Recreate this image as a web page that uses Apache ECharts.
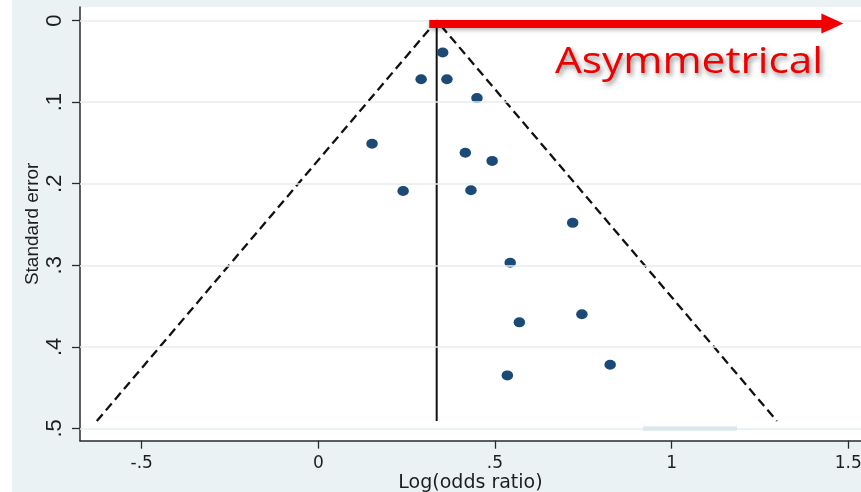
<!DOCTYPE html>
<html>
<head>
<meta charset="utf-8">
<script src="https://cdn.jsdelivr.net/npm/echarts@6/dist/echarts.min.js"></script>
<style>
  html, body { margin: 0; padding: 0; background: #ffffff; }
  #chart { width: 861px; height: 492px; background: linear-gradient(to right, #ffffff 12px, #eaf2f3 12px); }
</style>
</head>
<body>
<div id="chart"></div>
<script>
// Study estimates: log odds ratio and its standard error
const logOddsRatio  = [0.352, 0.291, 0.364, 0.449, 0.152, 0.416, 0.492, 0.240, 0.432, 0.720, 0.543, 0.746, 0.569, 0.826, 0.535];
const standardError = [0.039, 0.072, 0.072, 0.095, 0.151, 0.162, 0.172, 0.209, 0.208, 0.248, 0.297, 0.360, 0.370, 0.422, 0.435];

// Pooled estimate and pseudo 95% confidence limits
const pooledX  = [0.335, 0.335];
const pooledSE = [0, 0.491];
const limitX   = [-0.627, 0.335, 1.298];
const limitSE  = [0.491, 0, 0.491];

// Axis ticks and their labels
const xTicks = [-0.5, 0, 0.5, 1, 1.5];
const xTickLabels = ['-.5', '0', '.5', '1', '1.5'];
const yTicks = [0, 0.1, 0.2, 0.3, 0.4, 0.5];
const yTickLabels = ['0', '.1', '.2', '.3', '.4', '.5'];

// Annotation arrow across the top
const arrowX = [0.314, 1.455];
const arrowSE = 0.0036;
const annotationText = 'Asymmetrical';

const axisColor = '#2a2a2a';
const textColor = '#1e1e1e';

function tickLabel(ticks, labels) {
  return function (v) {
    for (let i = 0; i < ticks.length; i++) {
      if (Math.abs(ticks[i] - v) < 1e-6) return labels[i];
    }
    return '';
  };
}

// Stretch the annotation to its intended width
const annFont = '36px "Open Sans"';
const mctx = document.createElement('canvas').getContext('2d');
mctx.font = annFont;
const annScale = 268 / mctx.measureText(annotationText).width;

const chart = echarts.init(document.getElementById('chart'), null, { renderer: 'canvas' });

chart.setOption({
  animation: false,
  backgroundColor: 'transparent',
  grid: {
    left: 80, top: 7, right: 0, bottom: 51.3,
    outerBoundsMode: 'none',
    containLabel: false,
    show: true, backgroundColor: '#ffffff', borderWidth: 0
  },
  xAxis: {
    type: 'value',
    min: -0.6746, max: 1.536,
    name: 'Log(odds ratio)',
    nameLocation: 'middle',
    nameGap: 33,
    nameMoveOverlap: false,
    nameTextStyle: { fontFamily: 'DejaVu Sans', fontSize: 19, color: textColor },
    axisLine: { show: true, onZero: false, lineStyle: { color: axisColor, width: 1.5 } },
    axisTick: { show: true, customValues: xTicks, length: 8, lineStyle: { color: axisColor, width: 1.3 } },
    axisLabel: {
      customValues: xTicks, formatter: tickLabel(xTicks, xTickLabels),
      margin: 14, fontFamily: 'DejaVu Sans', fontSize: 17, color: textColor
    },
    splitLine: { show: false }
  },
  yAxis: {
    type: 'value',
    inverse: true,
    min: -0.0167, max: 0.5151,
    name: 'Standard error',
    nameLocation: 'middle',
    nameRotate: 90,
    nameGap: 38,
    nameMoveOverlap: false,
    nameTextStyle: { fontFamily: 'Liberation Sans', fontSize: 19, color: textColor },
    axisLine: { show: true, onZero: false, lineStyle: { color: axisColor, width: 1.5 } },
    axisTick: { show: true, customValues: yTicks, length: 8, lineStyle: { color: axisColor, width: 1.3 } },
    axisLabel: {
      customValues: yTicks, formatter: tickLabel(yTicks, yTickLabels),
      rotate: 90, margin: 14, fontFamily: 'Liberation Sans', fontSize: 22, color: textColor
    },
    splitLine: { show: false }
  },
  graphic: [{
    type: 'text',
    x: 555, y: 63,
    scaleX: annScale,
    z: 100,
    style: {
      text: annotationText,
      font: annFont,
      fill: '#ee0000',
      align: 'left',
      verticalAlign: 'middle',
      textShadowColor: 'rgba(40,40,40,0.55)',
      textShadowBlur: 5,
      textShadowOffsetX: 2,
      textShadowOffsetY: 3
    }
  }],
  series: [
    {
      // horizontal grid lines
      type: 'scatter',
      data: [],
      z: 1,
      silent: true,
      markLine: {
        silent: true,
        symbol: ['none', 'none'],
        label: { show: false },
        lineStyle: { color: '#e6eef0', width: 1.5, type: 'solid' },
        data: yTicks.map(v => ({ yAxis: v })).concat([[
          { coord: [0.919, 0.5], lineStyle: { color: '#dde8ec', width: 4.5, type: 'solid' } },
          { coord: [1.185, 0.5] }
        ]])
      }
    },
    {
      type: 'line',
      data: limitX.map((x, i) => [x, limitSE[i]]),
      showSymbol: false,
      z: 2,
      lineStyle: { color: '#111111', width: 2.3, type: [9, 5] }
    },
    {
      type: 'line',
      data: pooledX.map((x, i) => [x, pooledSE[i]]),
      showSymbol: false,
      z: 2,
      lineStyle: { color: '#111111', width: 2 }
    },
    {
      type: 'scatter',
      data: logOddsRatio.map((x, i) => [x, standardError[i]]),
      symbol: 'circle',
      symbolSize: [11.5, 10],
      z: 3,
      itemStyle: { color: '#1b4a77', opacity: 1 }
    },
    {
      // annotation arrow
      type: 'line',
      data: [],
      z: 4,
      markLine: {
        silent: true,
        symbol: ['none', 'triangle'],
        symbolSize: [20, 22],
        label: { show: false },
        lineStyle: {
          color: '#f00000', width: 8, type: 'solid',
          shadowColor: 'rgba(0,0,0,0.3)', shadowBlur: 4, shadowOffsetY: 2
        },
        itemStyle: { color: '#f00000' },
        data: [[
          { coord: [arrowX[0], arrowSE] },
          { coord: [arrowX[1], arrowSE] }
        ]]
      }
    }
  ]
});
</script>
</body>
</html>
